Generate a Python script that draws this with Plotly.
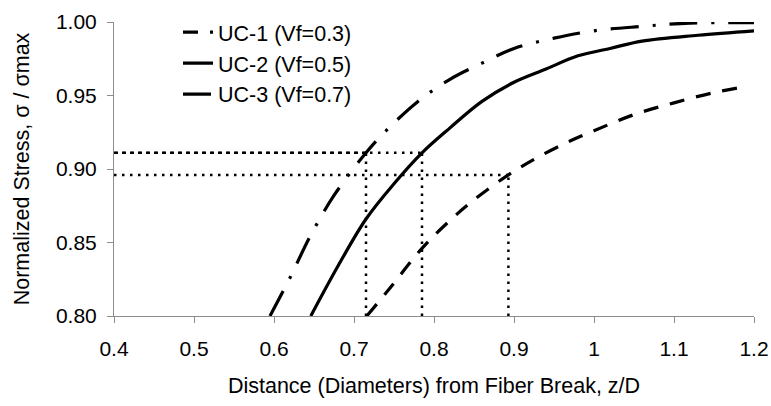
import plotly.graph_objects as go

# Stress recovery curves near a fiber break for three unit cells
uc1_z = [0.716, 0.745, 0.785, 0.82, 0.85, 0.893, 0.93, 0.97, 1.00, 1.05, 1.10, 1.15, 1.19]
uc1_s = [0.800, 0.819, 0.846, 0.865, 0.879, 0.896, 0.908, 0.919, 0.926, 0.937, 0.945, 0.952, 0.956]

uc2_z = [0.646, 0.68, 0.715, 0.75, 0.785, 0.82, 0.86, 0.90, 0.94, 0.98, 1.02, 1.06, 1.13, 1.20]
uc2_s = [0.800, 0.834, 0.866, 0.890, 0.911, 0.928, 0.946, 0.959, 0.968, 0.977, 0.982, 0.987, 0.991, 0.994]

uc3_z = [0.595, 0.62, 0.645, 0.675, 0.715, 0.74, 0.78, 0.82, 0.86, 0.90, 0.95, 1.00, 1.06, 1.12, 1.20]
uc3_s = [0.800, 0.826, 0.854, 0.882, 0.911, 0.926, 0.946, 0.961, 0.972, 0.982, 0.989, 0.994, 0.997, 0.9993, 0.9995]

names = ["UC-1 (Vf=0.3)", "UC-2 (Vf=0.5)", "UC-3 (Vf=0.7)"]

# Stress level / distance read-offs (z at which each curve reaches the level)
level_hi = 0.911
level_lo = 0.896
z_uc3_hi = 0.715
z_uc2_hi = 0.785
z_uc1_lo = 0.893

x_ticks = [0.4, 0.5, 0.6, 0.7, 0.8, 0.9, 1.0, 1.1, 1.2]
x_labels = ["0.4", "0.5", "0.6", "0.7", "0.8", "0.9", "1", "1.1", "1.2"]
y_ticks = [0.80, 0.85, 0.90, 0.95, 1.00]
y_labels = ["0.80", "0.85", "0.90", "0.95", "1.00"]

X_MIN, X_MAX = 0.4, 1.2
Y_MIN, Y_MAX = 0.80, 1.00

fig = go.Figure()

dotted = dict(color="black", width=2.5, dash="2.5px,5.5px")

# Horizontal read-off lines
fig.add_trace(go.Scatter(x=[X_MIN, z_uc2_hi], y=[level_hi, level_hi], mode="lines",
                         line=dotted, showlegend=False, hoverinfo="skip"))
fig.add_trace(go.Scatter(x=[z_uc3_hi, X_MIN], y=[level_hi, level_hi], mode="lines",
                         line=dotted, showlegend=False, hoverinfo="skip"))
fig.add_trace(go.Scatter(x=[X_MIN, z_uc1_lo], y=[level_lo, level_lo], mode="lines",
                         line=dotted, showlegend=False, hoverinfo="skip"))
# Vertical read-off lines
for zv, lv in [(z_uc3_hi, level_hi), (z_uc2_hi, level_hi), (z_uc1_lo, level_lo)]:
    fig.add_trace(go.Scatter(x=[zv, zv], y=[Y_MIN, lv], mode="lines",
                             line=dotted, showlegend=False, hoverinfo="skip"))

fig.add_trace(go.Scatter(x=uc1_z, y=uc1_s, mode="lines", name=names[0], legendgroup="a",
                         line=dict(color="black", width=3.2, dash="15px,12px", shape="spline")))
fig.add_trace(go.Scatter(x=uc2_z, y=uc2_s, mode="lines", name=names[1], legendgroup="b",
                         line=dict(color="black", width=3.2, shape="spline")))
fig.add_trace(go.Scatter(x=uc3_z, y=uc3_s, mode="lines", name=names[2], legendgroup="c",
                         line=dict(color="black", width=3.2, dash="28px,14px,3px,14px", shape="spline")))

family = "Liberation Sans, Arial, sans-serif"
tick_font = dict(family=family, size=21, color="black")
title_font = dict(family=family, size=21.5, color="black")
legend_font = dict(family=family, size=21.5, color="black")

fig.update_layout(
    width=771, height=406,
    margin=dict(l=114, r=17, t=16, b=90),
    paper_bgcolor="white", plot_bgcolor="white",
    font=tick_font,
    showlegend=True,
    legend=dict(x=0.1, y=1.035, xanchor="left", yanchor="top",
                bgcolor="rgba(0,0,0,0)", borderwidth=0,
                tracegroupgap=0, font=legend_font),
    xaxis=dict(range=[X_MIN, X_MAX], tickvals=x_ticks, ticktext=x_labels,
               automargin=False, tickfont=tick_font,
               showgrid=False, zeroline=False, showline=True, linecolor="#8c8c8c",
               linewidth=1, ticks="outside", ticklen=6, tickcolor="#8c8c8c",
               ticklabelstandoff=8,
               title=dict(text="Distance (Diameters) from Fiber Break, z/D",
                          font=title_font, standoff=18)),
    yaxis=dict(range=[Y_MIN, Y_MAX], tickvals=y_ticks, ticktext=y_labels,
               automargin=False, tickfont=tick_font,
               showgrid=False, zeroline=False, showline=True, linecolor="#8c8c8c",
               linewidth=1, ticks="outside", ticklen=6, tickcolor="#8c8c8c",
               ticklabelstandoff=6,
               title=dict(text="Normalized Stress, σ / σmax",
                          font=title_font, standoff=20)),
)

fig.write_html("out.html")
